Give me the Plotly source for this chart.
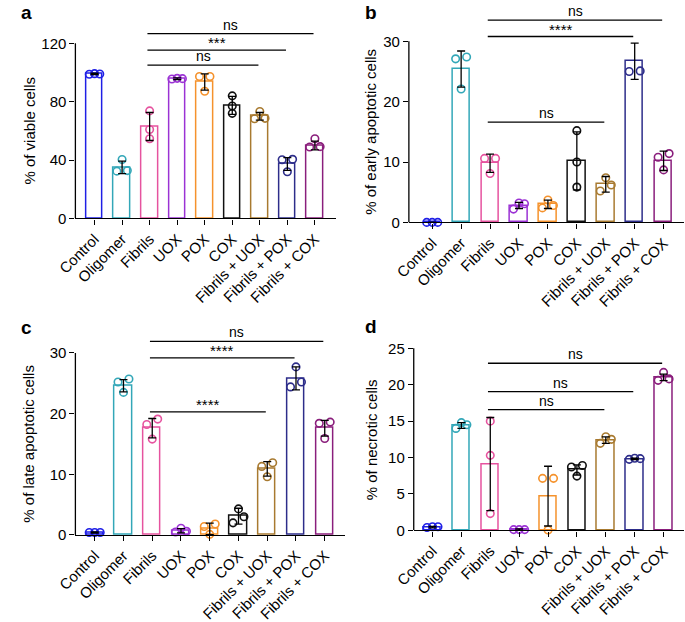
import numpy as np
import plotly.graph_objects as go

# ---------------- data ----------------
categories = ["Control", "Oligomer", "Fibrils", "UOX", "POX", "COX",
              "Fibrils + UOX", "Fibrils + POX", "Fibrils + COX"]
colors = ["#1f1fe6", "#33a7b8", "#e6539f", "#9b32d4", "#f5922c", "#111111",
          "#a87a30", "#2d2d8a", "#8a1e7c"]

# a: % of viable cells
viable_mean = [99.0, 35.0, 63.0, 95.7, 93.5, 77.5, 70.0, 37.3, 50.0]
viable_sd = [0.5, 4.3, 9.6, 0.6, 5.6, 6.2, 2.6, 4.4, 3.0]
viable_pts = [[98.8, 99.2, 99.0], [40.4, 32.8, 32.4], [73.7, 60.9, 54.6],
              [96.0, 95.5, 95.8], [97.3, 97.3, 87.2], [84.0, 77.0, 72.0],
              [73.3, 68.6, 68.3], [40.5, 40.2, 32.0], [54.6, 49.2, 49.0]]
viable_sig = [(2, 8, 126.6, "ns"), (2, 7, 115.3, "***"), (2, 6, 105.0, "ns")]

# b: % of early apoptotic cells
early_mean = [0.0, 25.4, 9.8, 2.8, 3.0, 10.2, 6.3, 26.7, 10.2]
early_sd = [0.05, 3.0, 1.5, 0.5, 0.7, 4.8, 1.3, 3.0, 1.6]
early_pts = [[0.0, 0.0, 0.0], [27.1, 27.4, 22.1], [10.6, 10.6, 8.1],
             [3.1, 3.2, 2.2], [3.7, 2.8, 2.4], [15.2, 10.0, 5.85],
             [7.4, 6.2, 5.2], [25.0, 25.1], [11.4, 10.8, 8.7]]
early_sig = [(2, 8, 33.5, "ns"), (2, 7, 30.8, "****"), (2, 6, 16.6, "ns")]

# c: % of late apoptotic cells
late_mean = [0.4, 24.6, 17.6, 0.7, 1.0, 3.1, 10.9, 25.8, 17.6]
late_sd = [0.1, 1.0, 1.6, 0.35, 0.95, 1.3, 1.2, 1.9, 1.3]
late_pts = [[0.4, 0.4, 0.4], [25.7, 25.2, 23.5], [19.1, 18.2, 15.8],
            [1.1, 0.6, 0.5], [1.8, 1.4, 0.1], [4.3, 3.0, 2.0],
            [11.9, 11.3, 9.6], [27.7, 25.2, 24.4], [18.6, 18.4, 15.9]]
late_sig = [(2, 8, 31.9, "ns"), (2, 7, 29.2, "****"), (2, 6, 20.3, "****")]

# d: % of necrotic cells
necro_mean = [0.45, 14.4, 9.1, 0.1, 4.7, 8.3, 12.4, 9.8, 21.0]
necro_sd = [0.1, 0.4, 6.4, 0.1, 4.1, 0.7, 0.45, 0.1, 0.45]
necro_pts = [[0.4, 0.5, 0.5], [14.0, 14.5, 14.8], [15.0, 10.3, 2.3],
             [0.1, 0.1, 0.1], [7.14, 7.14, 0.05], [8.9, 8.7, 7.45],
             [12.85, 12.5, 11.95], [9.75, 9.85, 9.9], [21.7, 20.8, 20.6]]
necro_sig = [(2, 8, 22.95, "ns"), (2, 7, 19.04, "ns"), (2, 6, 16.58, "ns")]

# ---------------- layout geometry (pixels) ----------------
W, H = 685, 622
FONT = "Liberation Sans, Arial, sans-serif"
TICK_FS = 15
TITLE_FS = 15

panels = [
    dict(letter="a", mean=viable_mean, sd=viable_sd, pts=viable_pts, sig=viable_sig,
         title="% of viable cells", ticks=[0, 40, 80, 120],
         px_axis=58, px_right=326, px_zero=221, px_ymax=43, px_top=12,
         cat0=77.7, step=28.33, title_x=11, letter_xy=(0, -1)),
    dict(letter="b", mean=early_mean, sd=early_sd, pts=early_pts, sig=early_sig,
         title="% of early apoptotic cells", ticks=[0, 10, 20, 30],
         px_axis=401, px_right=684, px_zero=225, px_ymax=41, px_top=2,
         cat0=425.0, step=29.75, title_x=362, letter_xy=(354, -1)),
    dict(letter="c", mean=late_mean, sd=late_sd, pts=late_pts, sig=late_sig,
         title="% of late apoptotic cells", ticks=[0, 10, 20, 30],
         px_axis=58, px_right=335, px_zero=542.7, px_ymax=357.7, px_top=322,
         cat0=77.9, step=29.57, title_x=10, letter_xy=(0, 319)),
    dict(letter="d", mean=necro_mean, sd=necro_sd, pts=necro_pts, sig=necro_sig,
         title="% of necrotic cells", ticks=[0, 5, 10, 15, 20, 25],
         px_axis=406, px_right=684, px_zero=538, px_ymax=353, px_top=345,
         cat0=425.3, step=29.71, title_x=362, letter_xy=(354, 318)),
]


def jitter(vals, ppu, thr=7.0, dx=0.19):
    vals = list(vals)
    n = len(vals)
    order = list(np.argsort(vals)[::-1])
    clusters, cur = [], [order[0]]
    for a, b in zip(order[:-1], order[1:]):
        if (vals[a] - vals[b]) * ppu < thr:
            cur.append(b)
        else:
            clusters.append(cur)
            cur = [b]
    clusters.append(cur)
    off = [0.0] * n
    for c in clusters:
        if len(c) == 2:
            off[c[0]] = dx
            off[c[1]] = -dx
        elif len(c) >= 3:
            off[c[0]] = 0.0
            off[c[1]] = dx
            off[c[2]] = -dx
    return off


fig = go.Figure()
shapes, annotations = [], []
LW = 1.3

for k, p in enumerate(panels):
    sfx = "" if k == 0 else str(k + 1)
    xa, ya = "x" + sfx, "y" + sfx
    ymax = p["ticks"][-1]
    ppu = (p["px_zero"] - p["px_ymax"]) / ymax
    ytop = (p["px_zero"] - p["px_top"]) / ppu
    x_lo = (p["px_axis"] - p["cat0"]) / p["step"]
    x_hi = (p["px_right"] - p["cat0"]) / p["step"]
    idx = list(range(len(categories)))

    fig.add_trace(go.Bar(
        x=idx, y=p["mean"], width=0.6, xaxis=xa, yaxis=ya,
        marker=dict(color="white", line=dict(color=colors, width=1.5)),
        showlegend=False, hoverinfo="skip"))

    for i, vals in enumerate(p["pts"]):
        off = jitter(vals, ppu)
        fig.add_trace(go.Scatter(
            x=[i + o for o in off], y=vals, mode="markers", xaxis=xa, yaxis=ya,
            marker=dict(symbol="circle-open", size=7.5, color=colors[i],
                        line=dict(width=1.6, color=colors[i])),
            cliponaxis=False, showlegend=False, hoverinfo="skip"))

    fig.add_trace(go.Scatter(
        x=idx, y=p["mean"], mode="markers", xaxis=xa, yaxis=ya,
        marker=dict(size=1, color="rgba(0,0,0,0)"),
        error_y=dict(type="data", array=p["sd"], visible=True,
                     color="black", thickness=1.3, width=4),
        cliponaxis=False, showlegend=False, hoverinfo="skip"))

    # significance bars
    for (g0, g1, yv, lab) in p["sig"]:
        shapes.append(dict(type="line", xref=xa, yref=ya, x0=g0 - 0.08, x1=g1 - 0.05,
                           y0=yv, y1=yv, line=dict(color="black", width=LW)))
        annotations.append(dict(xref=xa, yref=ya, x=(g0 + g1) / 2 - 0.06, y=yv,
                                text=lab, showarrow=False, yanchor="bottom",
                                yshift=-1 if lab == "ns" else -3,
                                font=dict(family=FONT, size=14 if lab == "ns" else 15,
                                          color="black")))

    # y axis line (stops at the top tick)
    shapes.append(dict(type="line", xref=xa + " domain", yref=ya, x0=0, x1=0,
                       y0=0, y1=ymax, line=dict(color="black", width=LW)))

    # y-axis title
    annotations.append(dict(xref="paper", yref=ya, x=p["title_x"] / W, y=ymax / 2,
                            text=p["title"], textangle=-90, showarrow=False,
                            xanchor="center", yanchor="middle",
                            font=dict(family=FONT, size=TITLE_FS, color="black")))
    # panel letter
    lx, ly = p["letter_xy"]
    annotations.append(dict(xref="paper", yref="paper", x=lx / W, y=1 - ly / H,
                            text="<b>%s</b>" % p["letter"], showarrow=False,
                            xanchor="left", yanchor="top",
                            font=dict(family=FONT, size=19, color="black")))

    xdom = [p["px_axis"] / W, p["px_right"] / W]
    ydom = [(H - p["px_zero"]) / H, (H - p["px_top"]) / H]
    fig.update_layout({
        ("xaxis" + sfx): dict(domain=xdom, range=[x_lo, x_hi], anchor=ya,
                              tickmode="array", tickvals=idx, ticktext=categories,
                              tickangle=-45, ticks="outside", ticklen=5, tickwidth=LW,
                              tickcolor="black", showline=True, linecolor="black",
                              linewidth=LW, showgrid=False, zeroline=False,
                              tickfont=dict(family=FONT, size=TICK_FS, color="black")),
        ("yaxis" + sfx): dict(domain=ydom, range=[0, ytop], anchor=xa,
                              tickmode="array", tickvals=p["ticks"],
                              ticks="outside", ticklen=5, tickwidth=LW,
                              tickcolor="black", showline=False, showgrid=False,
                              zeroline=False,
                              tickfont=dict(family=FONT, size=TICK_FS, color="black")),
    })

fig.update_layout(width=W, height=H, autosize=False,
                  margin=dict(l=0, r=0, t=0, b=0),
                  paper_bgcolor="white", plot_bgcolor="white",
                  shapes=shapes, annotations=annotations, bargap=0)

fig.write_html("out.html", config={"displayModeBar": False},
               post_script="document.body.style.margin='0';document.body.style.padding='0';")
